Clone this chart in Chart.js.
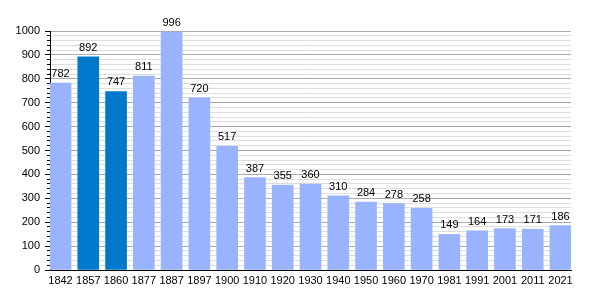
<!DOCTYPE html>
<html>
<head>
<meta charset="utf-8">
<script src="https://cdn.jsdelivr.net/npm/chart.js@4.4.0/dist/chart.umd.min.js"></script>
<style>
  html, body { margin: 0; padding: 0; background: #fff; }
  #wrap { width: 600px; height: 300px; }
</style>
</head>
<body>
<div id="wrap"><canvas id="chart"></canvas></div>
<script>
// population by census year
const years  = ['1842','1857','1860','1877','1887','1897','1900','1910','1920','1930',
                '1940','1950','1960','1970','1981','1991','2001','2011','2021'];
const values = [782, 892, 747, 811, 996, 720, 517, 387, 355, 360,
                310, 284, 278, 258, 149, 164, 173, 171, 186];
const highlighted = ['1857', '1860'];

const LIGHT = '#99b3ff';
const DARK  = '#0078cc';
const FONT  = { family: '"Liberation Sans", Arial, sans-serif', size: 11 };

// value labels above each bar
const valueLabels = {
  id: 'valueLabels',
  afterDatasetsDraw(chart) {
    const ctx = chart.ctx;
    const meta = chart.getDatasetMeta(0);
    ctx.save();
    ctx.font = `${FONT.size}px ${FONT.family}`;
    ctx.fillStyle = '#000';
    ctx.textAlign = 'center';
    ctx.textBaseline = 'alphabetic';
    meta.data.forEach((bar, i) => ctx.fillText(values[i], bar.x, bar.y - 6));
    ctx.restore();
  }
};

new Chart(document.getElementById('chart'), {
  type: 'bar',
  data: {
    datasets: [{
      data: years.map((y, i) => ({ x: i, y: values[i] })),
      backgroundColor: years.map(y => highlighted.includes(y) ? DARK : LIGHT),
      borderWidth: 0,
      barThickness: 21,
    }]
  },
  options: {
    responsive: true,
    maintainAspectRatio: false,
    animation: false,
    layout: { padding: { top: 31, right: 29, left: 0, bottom: 0 } },
    plugins: { legend: { display: false }, tooltip: { enabled: false } },
    scales: {
      x: {
        type: 'linear',
        offset: false,
        min: -0.378,
        max: 18.378,
        afterBuildTicks: axis => { axis.ticks = years.map((_, i) => ({ value: i })); },
        afterFit: axis => { axis.height = 30; },
        grid: { display: false, drawTicks: false, offset: false },
        border: { display: true, color: '#000', width: 1 },
        ticks: {
          autoSkip: false, maxRotation: 0, padding: 4,
          color: '#000', font: FONT,
          callback: v => years[v],
        },
      },
      y: {
        min: 0, max: 1000,
        weight: 1,
        afterFit: axis => { axis.width = 50; },
        grid: { color: '#aaaaaa', tickColor: '#000', tickLength: 5 },
        border: { display: true, color: '#000', width: 1 },
        ticks: { stepSize: 100, padding: 5, color: '#000', font: FONT, callback: v => String(v) },
      },
      yMinor: {
        position: 'left',
        min: 0, max: 1000,
        weight: 0,
        afterFit: axis => { axis.width = 0; },
        grid: {
          color: c => c.tick.value % 100 === 0 ? 'rgba(0,0,0,0)' : '#dddddd',
          tickColor: c => c.tick.value % 100 === 0 ? 'rgba(0,0,0,0)' : '#000',
          tickLength: 3,
        },
        border: { display: false },
        ticks: { stepSize: 20, display: false },
      },
    },
  },
  plugins: [valueLabels],
});
</script>
</body>
</html>
